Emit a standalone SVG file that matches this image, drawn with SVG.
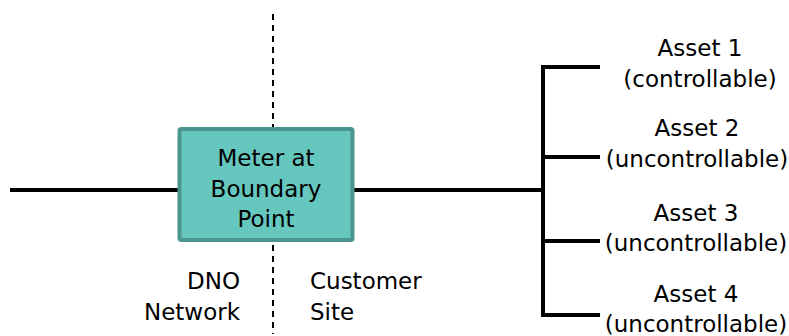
<svg xmlns="http://www.w3.org/2000/svg" width="789" height="336" viewBox="0 0 789 336">
<style>
.t{font-family:"DejaVu Sans","Liberation Sans",sans-serif;font-size:23px;fill:#000}
.m{text-anchor:middle}
.w{stroke:#000;stroke-width:4;fill:none}
</style>
<rect width="789" height="336" fill="#fff"/>
<g id="connectors">
<line class="w" x1="10" y1="190" x2="179" y2="190"/>
<line class="w" x1="353" y1="190" x2="544" y2="190"/>
<polyline class="w" points="600,67 543,67 543,315 600,315"/>
<line class="w" x1="543" y1="157" x2="600" y2="157"/>
<line class="w" x1="543" y1="241" x2="600" y2="241"/>
<line x1="273" y1="14" x2="273" y2="334" stroke="#000" stroke-width="2" stroke-dasharray="6,5"/>
</g>
<g id="meter">
<rect x="179.5" y="129" width="173" height="111" rx="2" fill="#66c7bf" stroke="#4a958d" stroke-width="4"/>
<text class="t m" x="266" y="166">Meter at</text>
<text class="t m" x="266" y="197">Boundary</text>
<text class="t m" x="266" y="227">Point</text>
</g>
<g id="asset1">
<text class="t m" x="700" y="56">Asset 1</text>
<text class="t m" x="700" y="87">(controllable)</text>
</g>
<g id="asset2">
<text class="t m" x="697" y="136">Asset 2</text>
<text class="t m" x="697" y="167">(uncontrollable)</text>
</g>
<g id="asset3">
<text class="t m" x="696" y="221">Asset 3</text>
<text class="t m" x="696" y="251">(uncontrollable)</text>
</g>
<g id="asset4">
<text class="t m" x="696" y="302">Asset 4</text>
<text class="t m" x="696" y="332">(uncontrollable)</text>
</g>
<g id="dno">
<text class="t" x="240" y="289" text-anchor="end">DNO</text>
<text class="t" x="240" y="320" text-anchor="end">Network</text>
</g>
<g id="customer">
<text class="t" x="310" y="289">Customer</text>
<text class="t" x="310" y="320">Site</text>
</g>
</svg>
